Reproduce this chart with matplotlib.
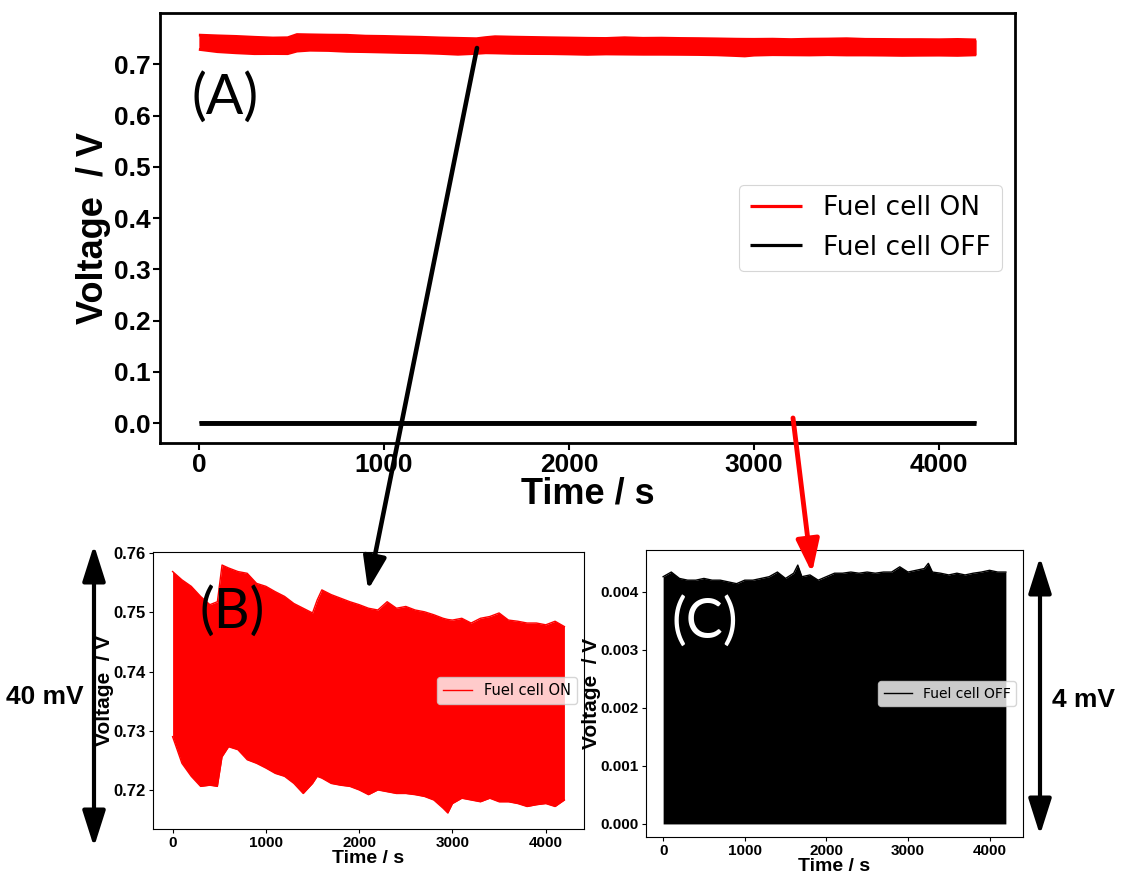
import numpy as np
import matplotlib
matplotlib.use("Agg")
import matplotlib.pyplot as plt
from matplotlib.patches import FancyArrowPatch

# fuel cell ON: upper / lower edge of the noisy voltage band (V) (B)
t_on = [0, 100, 200, 300, 400, 480, 530, 600, 700, 800, 900, 1000, 1100, 1200,
        1300, 1400, 1500, 1550, 1600, 1700, 1800, 1900, 2000, 2100, 2200, 2300,
        2400, 2500, 2600, 2700, 2800, 2900, 2950, 3000, 3100, 3200, 3300, 3400,
        3500, 3600, 3700, 3800, 3900, 4000, 4100, 4200]
on_high = [0.7569, 0.7555, 0.7544, 0.7527, 0.7513, 0.7518, 0.7580, 0.7575, 0.7569,
           0.7566, 0.7549, 0.7544, 0.7535, 0.7527, 0.7515, 0.7507, 0.7499, 0.7521,
           0.7538, 0.7530, 0.7524, 0.7518, 0.7513, 0.7507, 0.7504, 0.7518, 0.7507,
           0.7510, 0.7504, 0.7501, 0.7496, 0.7490, 0.7488, 0.7487, 0.7490, 0.7482,
           0.7490, 0.7493, 0.7499, 0.7487, 0.7485, 0.7482, 0.7482, 0.7479, 0.7485,
           0.7476]
on_low = [0.7290, 0.7245, 0.7223, 0.7206, 0.7208, 0.7206, 0.7256, 0.7273, 0.7268,
          0.7251, 0.7245, 0.7237, 0.7228, 0.7223, 0.7211, 0.7194, 0.7211, 0.7223,
          0.7220, 0.7211, 0.7208, 0.7206, 0.7200, 0.7192, 0.7200, 0.7197, 0.7194,
          0.7194, 0.7192, 0.7189, 0.7183, 0.7169, 0.7161, 0.7177, 0.7186, 0.7183,
          0.7180, 0.7186, 0.7180, 0.7180, 0.7177, 0.7172, 0.7175, 0.7177, 0.7172,
          0.7183]

# fuel cell OFF: upper edge of the band (V), lower edge sits at 0 (C)
t_off = [0, 100, 200, 300, 400, 500, 600, 700, 800, 900, 1000, 1100, 1200, 1300,
         1400, 1500, 1600, 1650, 1700, 1800, 1900, 2000, 2100, 2200, 2300, 2400,
         2500, 2600, 2700, 2800, 2900, 3000, 3100, 3200, 3250, 3300, 3400, 3500,
         3600, 3700, 3800, 3900, 4000, 4100, 4200]
off_high = [0.00426, 0.00434, 0.00423, 0.00420, 0.00420, 0.00423, 0.00420, 0.00420,
            0.00417, 0.00414, 0.00420, 0.00420, 0.00423, 0.00426, 0.00434, 0.00423,
            0.00432, 0.00446, 0.00426, 0.00429, 0.00420, 0.00426, 0.00432, 0.00432,
            0.00434, 0.00432, 0.00434, 0.00432, 0.00434, 0.00434, 0.00443, 0.00434,
            0.00437, 0.00440, 0.00449, 0.00434, 0.00432, 0.00429, 0.00432, 0.00429,
            0.00432, 0.00434, 0.00437, 0.00434, 0.00434]
off_low = [0.0] * len(t_off)

W, H = 1121, 882
fig = plt.figure(figsize=(W / 100, H / 100), dpi=100)
plt.rcParams['font.family'] = ['Liberation Sans', 'DejaVu Sans']


def box(l, t, r, b):
    return [l / W, 1 - b / H, (r - l) / W, (b - t) / H]


def px(x, y):
    return (x / W, 1 - y / H)


def bold_ticks(a):
    for lab in a.get_xticklabels() + a.get_yticklabels():
        lab.set_fontweight('bold')


# ---- (A) main panel
ax = fig.add_axes(box(160, 13, 1015, 443))
ax.fill_between(t_on, on_low, on_high, color='red', lw=0)
ax.plot(t_on, on_high, color='red', lw=2, label='Fuel cell ON', solid_capstyle='butt')
ax.plot(t_on, on_low, color='red', lw=2, solid_capstyle='butt')
ax.fill_between(t_off, off_low, off_high, color='black', lw=0)
ax.plot(t_off, off_low, color='black', lw=3.5, label='Fuel cell OFF',
        solid_capstyle='butt')
ax.set_ylim(-0.039, 0.80)
ax.set_yticks(np.arange(0, 0.71, 0.1))
ax.set_xticks([0, 1000, 2000, 3000, 4000])
for s in ax.spines.values():
    s.set_linewidth(2)
ax.tick_params(labelsize=19, width=1.5, length=5, pad=2)
bold_ticks(ax)
ax.set_xlabel('Time / s', fontsize=26, fontweight='bold', labelpad=0)
ax.set_ylabel('Voltage  / V', fontsize=26, fontweight='bold', labelpad=2)
leg = ax.legend(loc='center right', prop={'family': 'DejaVu Sans', 'size': 19})
for ln in leg.get_lines():
    ln.set_linewidth(2.3)
leg.get_frame().set_linewidth(0.8)

# ---- (B) inset, fuel cell ON
axb = fig.add_axes(box(153, 552, 584, 829))
axb.fill_between(t_on, on_low, on_high, color='red', lw=0)
axb.plot(t_on, on_high, color='red', lw=1, label='Fuel cell ON')
axb.plot(t_on, on_low, color='red', lw=1)
axb.set_ylim(0.7134, 0.7602)
axb.set_yticks([0.72, 0.73, 0.74, 0.75, 0.76])
axb.set_xticks([0, 1000, 2000, 3000, 4000])
axb.tick_params(labelsize=12, length=3, pad=2)
axb.tick_params(axis='x', labelsize=11)
bold_ticks(axb)
axb.set_xlabel('Time / s', fontsize=14, fontweight='bold', labelpad=0)
axb.set_ylabel('Voltage  / V', fontsize=15, fontweight='bold', labelpad=0)
axb.legend(loc='center right', prop={'family': 'DejaVu Sans', 'size': 10.5})

# ---- (C) inset, fuel cell OFF
axc = fig.add_axes(box(646, 550, 1023, 837))
axc.fill_between(t_off, off_low, off_high, color='black', lw=0)
axc.plot(t_off, off_high, color='black', lw=1, label='Fuel cell OFF')
axc.set_ylim(-0.000225, 0.00472)
axc.set_yticks([0.0, 0.001, 0.002, 0.003, 0.004])
axc.set_yticklabels(['0.000', '0.001', '0.002', '0.003', '0.004'])
axc.set_xticks([0, 1000, 2000, 3000, 4000])
axc.tick_params(labelsize=11, length=3, pad=2)
bold_ticks(axc)
axc.set_xlabel('Time / s', fontsize=14, fontweight='bold', labelpad=0)
axc.set_ylabel('Voltage  / V', fontsize=15, fontweight='bold', labelpad=0)
axc.legend(loc='center right', prop={'family': 'DejaVu Sans', 'size': 10})

# panel letters
fig.text(*px(192, 98), '(A)', fontsize=40, family='Lato', va='center', ha='left')
fig.text(*px(199, 612), '(B)', fontsize=40, family='Lato', va='center', ha='left')
fig.text(*px(671, 622), '(C)', fontsize=40, family='Lato', va='center', ha='left',
         color='white')


# arrows
def arrow(p0, p1, color, style, lw):
    a = FancyArrowPatch(px(*p0), px(*p1), transform=fig.transFigure,
                        arrowstyle=style, color=color, lw=lw, mutation_scale=1,
                        shrinkA=0, shrinkB=0)
    fig.add_artist(a)


arrow((477, 48), (368, 590), 'black', '-|>,head_length=20,head_width=7', 3.3)
arrow((793, 418), (812, 573), 'red', '-|>,head_length=20,head_width=7', 3.5)
arrow((94, 545), (94, 847), 'black', '<|-|>,head_length=22,head_width=7', 3)
arrow((1040, 557), (1040, 835), 'black', '<|-|>,head_length=22,head_width=7', 3)

fig.text(*px(45, 697), '40 mV', fontsize=19, fontweight='bold',
         ha='center', va='center')
fig.text(*px(1083, 700), '4 mV', fontsize=19, fontweight='bold',
         ha='center', va='center')

fig.savefig('out.png', dpi=100)
